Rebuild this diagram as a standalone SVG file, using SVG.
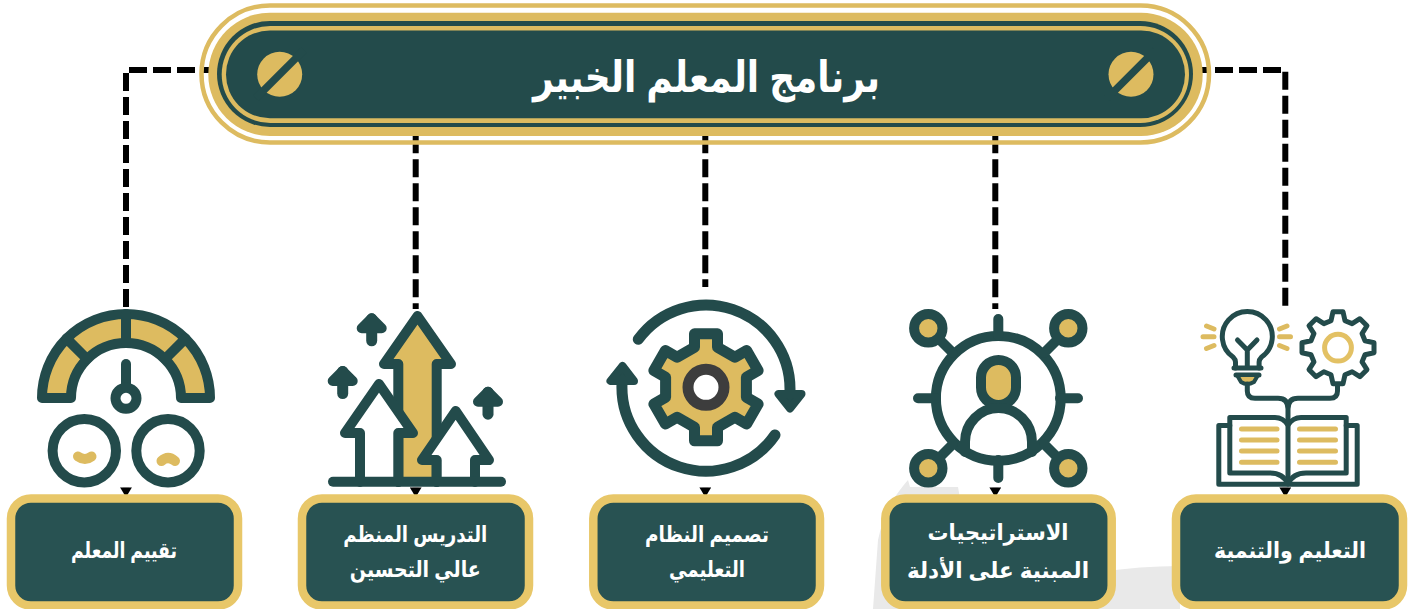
<svg xmlns="http://www.w3.org/2000/svg" xmlns:xlink="http://www.w3.org/1999/xlink" width="1419" height="609" viewBox="0 0 1419 609">
<style>
text{font-family:"Liberation Sans","DejaVu Sans",Arial,sans-serif;font-weight:700;fill:#fff;text-anchor:middle;direction:rtl}
.lbl{font-size:22px}
.conn{fill:none;stroke:#000;stroke-width:6;stroke-dasharray:18 6;marker-end:url(#tri)}
.box{fill:#285252;stroke:#E8C769;stroke-width:8.5}
.bk{fill:#fff}
.s{fill:none;stroke:#234B4B;stroke-width:10;stroke-linecap:round;stroke-linejoin:round}
.sg{fill:#DDBB60;stroke:#234B4B;stroke-width:10;stroke-linecap:round;stroke-linejoin:round}
.sw{fill:#fff;stroke:#234B4B;stroke-width:10;stroke-linecap:round;stroke-linejoin:round}
.t{fill:none;stroke:#234B4B;stroke-width:5;stroke-linecap:round;stroke-linejoin:round}
.y{fill:none;stroke:#DDBB60;stroke-width:5;stroke-linecap:round}
.gd{fill:#DDBB60}
.dk{fill:#234B4B}
</style>
<defs>
<marker id="tri" markerUnits="userSpaceOnUse" markerWidth="10" markerHeight="12" refX="0" refY="6" orient="auto" viewBox="0 0 10 12"><path d="M0,0L10,6L0,12Z" fill="#000"/></marker>
<g id="up"><path d="M0,5.5V27.5" class="s" style="stroke-width:11"/><path d="M0,5L-10,15H10Z" class="s" style="fill:#234B4B"/></g>
<g id="bolt"><circle r="22.5" class="gd"/><path d="M-24,24L24,-24" stroke="#234B4B" stroke-width="7.5" fill="none"/></g>
</defs>
<path id="backdrop" d="M873,609L878,540C884,512 895,495 908,480L910,487H958L962,510H1100V572Q1140,566 1180,566V609Z" fill="#E9E9E9"/>
<g id="connectors">
<path class="conn" d="M219,70H126V487.3"/>
<path class="conn" d="M415.7,135.3V487.3"/>
<path class="conn" d="M705.3,135.3V487.3"/>
<path class="conn" d="M995.3,135.3V487.3"/>
<path class="conn" d="M1191,70H1285.3V487.3"/>
</g>
<g id="banner">
<rect x="201.5" y="5.5" width="1007.5" height="137" rx="68.5" fill="none" stroke="#DDBB60" stroke-width="4.5"/>
<rect x="208.3" y="12.7" width="994.4" height="123.3" rx="61.6" fill="#DDBB60"/>
<rect x="217" y="21" width="976" height="106" rx="53" fill="#234B4B"/>
<rect x="221.7" y="26" width="967.3" height="97" rx="48.5" fill="#DDBB60"/>
<rect x="226" y="30.5" width="959" height="87.8" rx="43.9" fill="#234B4B"/>
<use xlink:href="#bolt" href="#bolt" x="279.7" y="74.3"/>
<use xlink:href="#bolt" href="#bolt" x="1131" y="74.3"/>
<text x="706.5" y="92" font-size="43" textLength="347" lengthAdjust="spacingAndGlyphs">برنامج المعلم الخبير</text>
</g>
<g id="icon-gauge">
<rect class="bk" x="116" y="307" width="20" height="180.3"/>
<path class="sg" d="M42,398A84,84 0 0 1 210,398H181A55,55 0 0 0 71,398Z"/>
<path class="s" d="M126,314V343M66.6,338.6L87,359M185.4,338.6L165,359"/>
<path class="s" d="M126,364V385"/>
<circle class="sw" cx="126" cy="398.3" r="10.5"/>
<circle class="sw" cx="84.3" cy="450.7" r="31.7"/>
<circle class="sw" cx="168" cy="450.7" r="31.7"/>
<path d="M78,456.5Q85,461.5 91.5,456.5M161.5,461Q168,455 175,461" fill="none" stroke="#DDBB60" stroke-width="10" stroke-linecap="round"/>
</g>
<g id="icon-arrows">
<rect class="bk" x="405" y="309" width="20" height="178.3"/>
<path class="sg" d="M398.3,482V364H384L417.5,316L451,364H436.7V482"/>
<path class="sw" d="M360,482V433H345L379,384L413,433H398.3V482"/>
<path class="sw" d="M436.7,482V460H422L455.7,411L489,460H475V482"/>
<path class="s" d="M333,481.7H501"/>
<use xlink:href="#up" href="#up" x="371.7" y="313.3"/>
<use xlink:href="#up" href="#up" x="342.7" y="366"/>
<use xlink:href="#up" href="#up" x="488" y="386.7"/>
</g>
<g id="icon-cycle">
<rect class="bk" x="695" y="287" width="20" height="200.3"/>
<path d="M638.3,339.3A84,84 0 0 1 790,390M775,435A84,84 0 0 1 622,384" fill="none" stroke="#234B4B" stroke-width="11" stroke-linecap="round"/>
<path d="M778.5,394H801.5L790,408.5ZM610.5,381H634L622.5,366Z" fill="#234B4B" stroke="#234B4B" stroke-width="8" stroke-linejoin="round"/>
<path class="sg" style="stroke-width:11" d="M694.5,347.3V333.8H717.5V347.3L734.9,357.3L746.6,350.6L758.1,370.5L746.4,377.3V397.3L758.1,404.1L746.6,424L734.9,417.3L717.5,427.3V440.8H694.5V427.3L677.1,417.3L665.4,424L653.9,404.1L665.6,397.3V377.3L653.9,370.5L665.4,350.6L677.1,357.3Z"/>
<circle cx="706" cy="387.3" r="18" fill="#fff" stroke="#3D3D3D" stroke-width="11"/>
</g>
<g id="icon-network">
<rect class="bk" x="985" y="309" width="20" height="178.3"/>
<circle class="sw" cx="998.3" cy="398.3" r="62.4"/>
<path class="s" d="M998.3,319V336M998.3,460V478M918,398.3H936M1060,398.3H1078M936,336L953,353M1061,336L1044,353M936,461L953,444M1061,461L1044,444"/>
<circle class="sg" cx="928.3" cy="328.3" r="14.2"/>
<circle class="sg" cx="1068.3" cy="328.3" r="14.2"/>
<circle class="sg" cx="928.3" cy="468.3" r="14.2"/>
<circle class="sg" cx="1068.3" cy="468.3" r="14.2"/>
<rect class="sg" x="981" y="360" width="35" height="45" rx="17.5"/>
<path class="s" d="M965,452V442A33.5,34 0 0 1 1032,442V452"/>
</g>
<g id="icon-learning">
<rect class="bk" x="1275" y="306" width="20" height="181.3"/>
<path class="y" d="M1203,336.7H1214M1206.5,326L1214,329M1206.5,348.5L1214,345.5M1279.5,336.7H1290.5M1279.5,329L1287,326M1279.5,345.5L1287,348.5"/>
<path class="t" d="M1235.5,368V362Q1235.5,359.5 1233,357A25,25 0 1 1 1261.6,357Q1259.1,359.5 1259.1,362V368"/>
<path class="t" d="M1247.3,366V350M1237.5,340L1247.3,350L1257,340M1234,368H1261M1236,375H1259"/>
<path d="M1237,375H1258L1254,382Q1247,386 1241,382Z" fill="#DDBB60" stroke="#234B4B" stroke-width="4" stroke-linejoin="round"/>
<path class="t" d="M1247.3,384V391Q1247.3,398.3 1255,398.3H1278Q1288,398.3 1288,409M1337.5,385V391Q1337.5,398.3 1330,398.3H1298Q1288,398.3 1288,409V482"/>
<path class="t" transform="translate(1338,347.7)" d="M-7,-27L-5,-36H5L7,-27L14.14,-24.04L21.92,-28.99L28.99,-21.92L24.04,-14.14L27,-7L36,-5V5L27,7L24.04,14.14L28.99,21.92L21.92,28.99L14.14,24.04L7,27L5,36H-5L-7,27L-14.14,24.04L-21.92,28.99L-28.99,21.92L-24.04,14.14L-27,7L-36,5V-5L-27,-7L-24.04,-14.14L-28.99,-21.92L-21.92,-28.99L-14.14,-24.04Z"/>
<circle cx="1338" cy="347.7" r="13.4" fill="none" stroke="#E3C164" stroke-width="5"/>
<path class="t" d="M1288,425Q1283,417.5 1275,417.5H1229.8V473H1270Q1283,473 1288,484M1288,425Q1293,417.5 1301,417.5H1346.2V473H1306Q1293,473 1288,484"/>
<path class="t" d="M1229.8,425.5H1218.8V484.2H1357.2V425.5H1346.2"/>
<path class="y" d="M1241.5,429H1277M1241.5,440H1277M1241.5,451H1277M1241.5,462.3H1277M1299.5,429H1335.5M1299.5,440H1335.5M1299.5,451H1335.5M1299.5,462.3H1335.5"/>
</g>
<g id="box-1"><rect class="box" x="11" y="498.5" width="227" height="107" rx="20"/><text class="lbl" x="124" y="558" textLength="106" lengthAdjust="spacingAndGlyphs">تقييم المعلم</text></g>
<g id="box-2"><rect class="box" x="302" y="498.5" width="227" height="107" rx="20"/><text class="lbl" x="415.3" y="541.5" textLength="144" lengthAdjust="spacingAndGlyphs">التدريس المنظم</text><text class="lbl" x="415.3" y="576.5" textLength="131" lengthAdjust="spacingAndGlyphs">عالي التحسين</text></g>
<g id="box-3"><rect class="box" x="593.3" y="498.5" width="226.7" height="107" rx="20"/><text class="lbl" x="707" y="541.5" textLength="124" lengthAdjust="spacingAndGlyphs">تصميم النظام</text><text class="lbl" x="707" y="576.5" textLength="76" lengthAdjust="spacingAndGlyphs">التعليمي</text></g>
<g id="box-4"><rect class="box" x="885.3" y="498.5" width="226.4" height="107" rx="20"/><text class="lbl" x="998" y="540" textLength="141" lengthAdjust="spacingAndGlyphs">الاستراتيجيات</text><text class="lbl" x="998" y="578" textLength="182" lengthAdjust="spacingAndGlyphs">المبنية على الأدلة</text></g>
<g id="box-5"><rect class="box" x="1176" y="498.5" width="227" height="107" rx="20"/><text class="lbl" x="1290" y="558" textLength="152" lengthAdjust="spacingAndGlyphs">التعليم والتنمية</text></g>
</svg>
